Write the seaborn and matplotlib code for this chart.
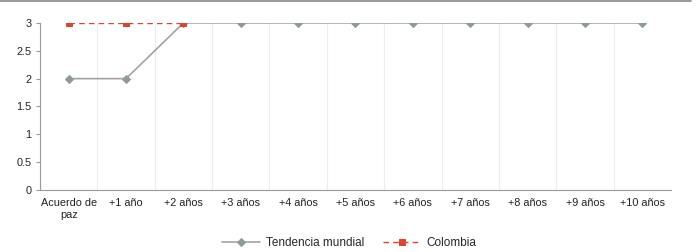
import pandas as pd
import numpy as np
import seaborn as sns
import matplotlib.pyplot as plt
from matplotlib.lines import Line2D

# === DATOS ===
categorias = ["Acuerdo de\npaz", "+1 año", "+2 años", "+3 años", "+4 años", "+5 años",
              "+6 años", "+7 años", "+8 años", "+9 años", "+10 años"]
tendencia_mundial = [2, 2, 3, 3, 3, 3, 3, 3, 3, 3, 3]
colombia = [3, 3, 3]

sns.set_style("white")
plt.rcParams['font.family'] = ['Liberation Sans', 'DejaVu Sans']

df_t = pd.DataFrame({"x": np.arange(len(categorias)), "valor": tendencia_mundial})
df_c = pd.DataFrame({"x": np.arange(len(colombia)), "valor": colombia})

fig = plt.figure(figsize=(6.98, 2.52), dpi=100)
ax = fig.add_axes([0.0573, 0.246, 0.904, 0.663])

sns.lineplot(data=df_t, x="x", y="valor", ax=ax, color="#a3a3a3", linewidth=1.2,
             marker="D", markersize=4.5, markerfacecolor="#8e9b99", markeredgecolor="#8e9b99",
             label="Tendencia mundial")
sns.lineplot(data=df_c, x="x", y="valor", ax=ax, color="#d9452f", linewidth=1.0,
             linestyle=(0, (4, 3)), marker="s", markersize=5,
             markerfacecolor="#d9452f", markeredgecolor="#d9452f", label="Colombia")

# ejes
ax.set_xlim(-0.5, len(categorias) - 0.5)
ax.set_ylim(0, 3)
ax.set_yticks([0, 0.5, 1, 1.5, 2, 2.5, 3])
ax.set_yticklabels(["0", "0.5", "1", "1.5", "2", "2.5", "3"])
ax.set_xticks(np.arange(len(categorias)))
ax.set_xticklabels(categorias)
ax.set_xticks(np.arange(-0.5, len(categorias)), minor=True)
ax.tick_params(axis="x", which="major", length=0, labelsize=7.8, colors="#222222", pad=6)
ax.tick_params(axis="x", which="minor", length=3, direction="out", color="#999999", width=0.8)
ax.tick_params(axis="y", length=3, direction="out", color="#999999", labelsize=7.8,
               colors="#222222", pad=3, left=True)
ax.grid(True, axis="x", which="minor", color="#ececec", linewidth=0.8)
ax.set_xlabel("")
ax.set_ylabel("")
for s in ["top", "right"]:
    ax.spines[s].set_visible(False)
for s in ["left", "bottom"]:
    ax.spines[s].set_color("#999999")
    ax.spines[s].set_linewidth(0.8)

ax.legend(loc="upper center", bbox_to_anchor=(0.49, -0.22), ncol=2, frameon=False,
          fontsize=8.5, handlelength=3.2, handletextpad=0.5, columnspacing=1.6)

# línea superior de la figura
fig.add_artist(Line2D([0, 0.99], [0.996, 0.996], color="#888888", linewidth=1.2))

fig.savefig("out.png", dpi=100)
